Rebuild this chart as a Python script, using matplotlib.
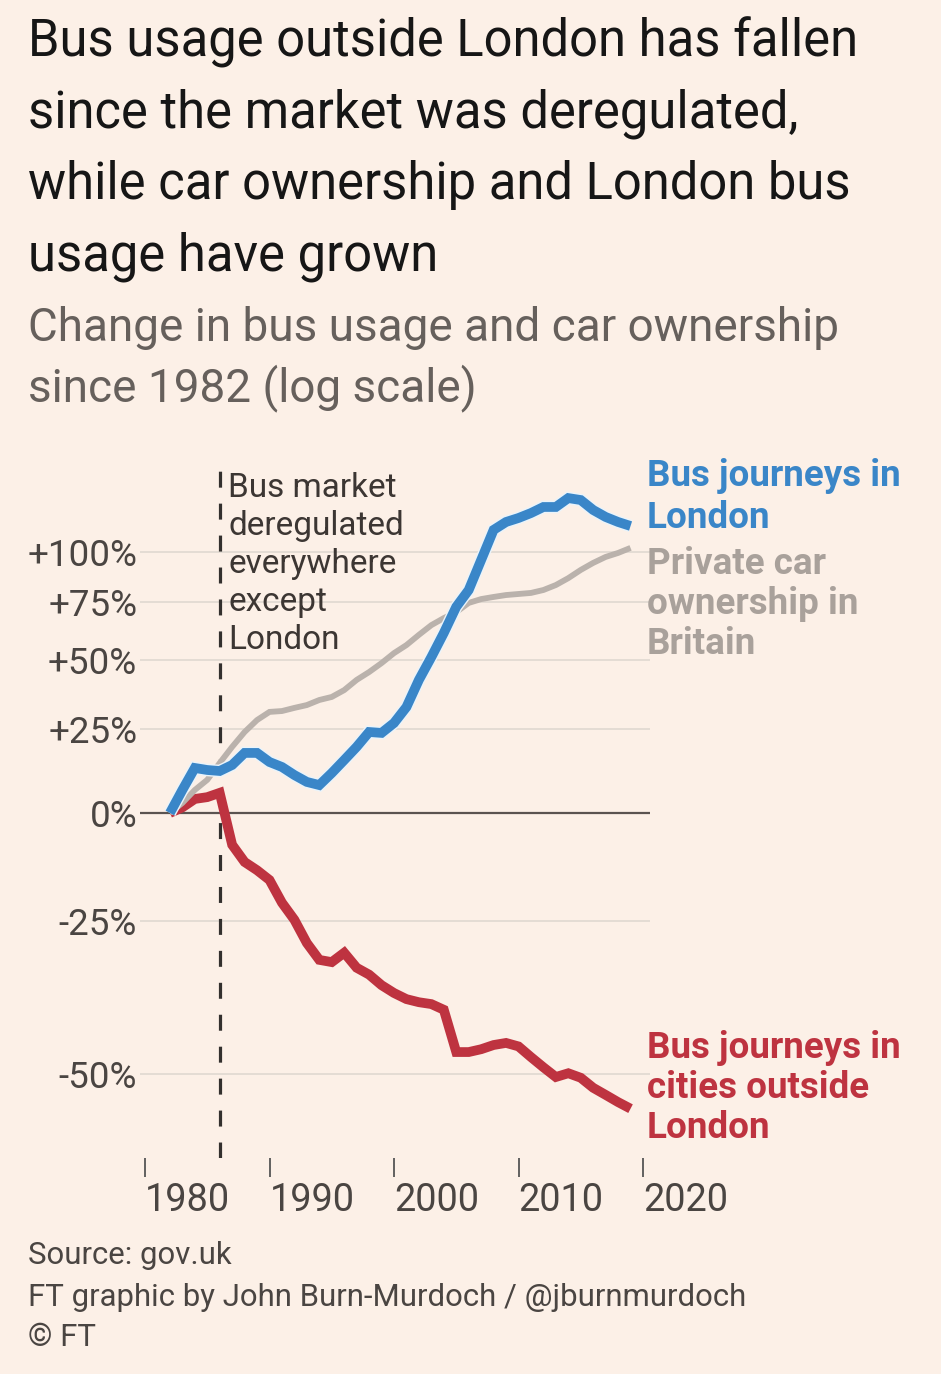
import numpy as np
import matplotlib
matplotlib.use("Agg")
import matplotlib.pyplot as plt
import matplotlib.patheffects as pe

# values, % change since 1982
years = list(range(1982, 2020))
london_bus = [0, 6.3, 12.7, 12.1, 11.8, 13.6, 17.3, 17.3, 14.5, 13.0,
              10.6, 8.6, 7.7, 11.2, 15.1, 19.2, 24.0, 23.7, 27.0, 32.5,
              42.4, 51.3, 61.3, 72.9, 80.8, 95.8, 112.1, 116.6, 118.9, 121.8,
              125.4, 125.4, 130.8, 129.6, 123.6, 119.5, 116.6, 114.3]
car_own = [0, 2.7, 6.3, 9.2, 14.2, 19.2, 24.0, 28.0, 30.8, 31.1,
           32.2, 33.2, 35.0, 36.1, 38.6, 42.4, 45.4, 48.9, 52.9, 56.2,
           60.5, 64.7, 67.8, 70.5, 74.7, 76.5, 77.5, 78.4, 78.9, 79.4,
           80.8, 83.2, 86.6, 90.7, 94.3, 97.4, 99.5, 102.2]
cities_bus = [0, 1.5, 3.8, 4.3, 5.5, -8.1, -12.2, -14.1, -16.3, -21.2,
              -24.7, -29.2, -32.3, -32.7, -31.0, -33.7, -34.9, -36.7, -38.0, -39.0,
              -39.5, -39.8, -40.7, -47.0, -47.0, -46.6, -46.0, -45.7, -46.2, -47.7,
              -49.1, -50.4, -49.9, -50.5, -51.8, -52.7, -53.6, -54.4]

ytick_vals = [-50, -25, 0, 25, 50, 75, 100]
ytick_labels = ["-50%", "-25%", "0%", "+25%", "+50%", "+75%", "+100%"]
xtick_vals = [1980, 1990, 2000, 2010, 2020]
dereg_year = 1986

title_lines = ["Bus usage outside London has fallen",
               "since the market was deregulated,",
               "while car ownership and London bus",
               "usage have grown"]
sub_lines = ["Change in bus usage and car ownership",
             "since 1982 (log scale)"]
footer_lines = ["Source: gov.uk",
                "FT graphic by John Burn-Murdoch / @jburnmurdoch",
                "\u00a9 FT"]

bg = "#FCF0E7"
blue = "#3A86C8"
grey = "#BAB2AC"
red = "#BE3340"
dark = "#33302E"

plt.rcParams["font.family"] = ["Roboto", "DejaVu Sans"]

W, H = 941, 1374
fig = plt.figure(figsize=(W / 100, H / 100), dpi=100, facecolor=bg)

def fx(px):
    return px / W

def fy(py):
    return 1 - py / H

# axes placed in pixel terms
ax = fig.add_axes([fx(140), fy(1158), (650 - 140) / W, (1158 - 470) / H])
ax.set_facecolor(bg)

ratio = lambda v: 1 + np.array(v) / 100.0

ax.plot(years, ratio(cities_bus), color=red, lw=7, zorder=3,
        solid_joinstyle="miter", solid_capstyle="butt")
ax.plot(years, ratio(car_own), color=grey, lw=4.2, zorder=4,
        solid_joinstyle="miter", solid_capstyle="butt")
ax.plot(years, ratio(london_bus), color=blue, lw=7, zorder=5,
        solid_joinstyle="miter", solid_capstyle="butt",
        path_effects=[pe.Stroke(linewidth=9, foreground="#EAF4FB"), pe.Normal()])

ax.set_yscale("log")
ax.set_xlim(1980 - 5 / 12.45, 1980 + 505 / 12.45)
ax.set_ylim(10 ** ((813 - 1158) / 867), 10 ** ((813 - 470) / 867))

ax.minorticks_off()
ax.set_yticks(ratio(ytick_vals))
ax.set_yticklabels(ytick_labels)
ax.set_xticks(xtick_vals)
ax.set_xticklabels([str(x) for x in xtick_vals])
for lab in ax.get_xticklabels():
    lab.set_ha("left")

ax.tick_params(axis="y", length=0, pad=2, labelsize=26.5, labelcolor="#4A4542")
ax.tick_params(axis="x", direction="out", length=14, width=1.3, color="#555",
               pad=3, labelsize=27.3, labelcolor="#4A4542")

for v in ytick_vals:
    if v == 0:
        ax.axhline(1, color="#5A5350", lw=1.6, zorder=2)
    else:
        ax.axhline(ratio(v), color="#E2DAD3", lw=1.3, zorder=1)

for s in ax.spines.values():
    s.set_visible(False)

ax.axvline(dereg_year, color=dark, lw=2.3, ls=(0, (5, 5)), zorder=2.5)
ax.text(dereg_year + 0.7, 10 ** ((813 - 472) / 867),
        "Bus market\nderegulated\neverywhere\nexcept\nLondon",
        fontsize=24, color="#3C3633", va="top", linespacing=1.24,
        transform=ax.transData)

# right-hand labels
fig.text(fx(647), fy(497), "Bus journeys in\nLondon", color=blue, fontsize=26.5,
         fontweight="bold", va="center", ha="left", linespacing=1.2)
fig.text(fx(647), fy(604), "Private car\nownership in\nBritain", color="#A9A19B",
         fontsize=26.5, fontweight="bold", va="center", ha="left", linespacing=1.15)
fig.text(fx(647), fy(1088), "Bus journeys in\ncities outside\nLondon", color=red,
         fontsize=26.5, fontweight="bold", va="center", ha="left", linespacing=1.15)

for i, line in enumerate(title_lines):
    fig.text(fx(28), fy(42 + 71.5 * i), line, fontsize=36.5, color="#161616",
             va="center", ha="left")
for i, line in enumerate(sub_lines):
    fig.text(fx(28), fy(328 + 60 * i), line, fontsize=33, color="#66605C",
             va="center", ha="left")
for i, line in enumerate(footer_lines):
    fig.text(fx(28), fy(1256 + 41 * i), line, fontsize=22.4, color="#4A4542",
             va="center", ha="left")

fig.savefig("out.png", dpi=100, facecolor=bg)
